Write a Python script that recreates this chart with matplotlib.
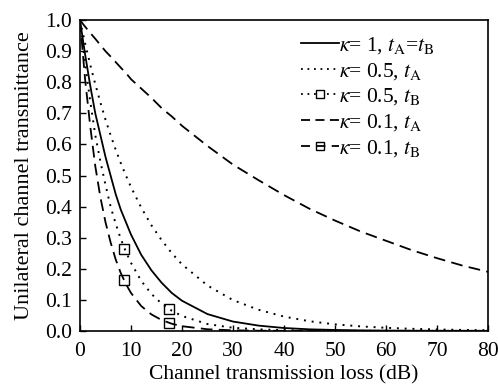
"""
Unilateral channel transmittance vs channel transmission loss.
"""
import matplotlib
matplotlib.use("Agg")
import matplotlib.pyplot as plt

# values
loss_db = [0, 1, 2, 3, 4, 5, 6, 7, 8, 9, 10, 12, 14, 16, 18, 20, 25, 30,
           35, 40, 45, 50, 55, 60, 65, 70, 75, 80]

k1 = [1.0, 0.89, 0.79, 0.70, 0.63, 0.56, 0.50, 0.44, 0.39, 0.35, 0.31, 0.245,
      0.195, 0.155, 0.122, 0.097, 0.054, 0.030, 0.017, 0.0093, 0.005, 0.003,
      0.0016, 0.0009, 0.0005, 0.0003, 0.0002, 0.0001]

k05_ta = [1.0, 0.926, 0.857, 0.794, 0.735, 0.68, 0.63, 0.583, 0.54, 0.50,
          0.463, 0.397, 0.34, 0.292, 0.25, 0.214, 0.146, 0.099, 0.068, 0.046,
          0.031, 0.021, 0.0145, 0.0099, 0.0067, 0.0046, 0.0031, 0.0021]

k05_tb = [1.0, 0.86, 0.74, 0.63, 0.545, 0.47, 0.40, 0.345, 0.296, 0.255,
          0.219, 0.161, 0.119, 0.088, 0.065, 0.048, 0.022, 0.010, 0.005,
          0.0023, 0.001, 0.0005, 0.0002, 0.0001, 0.0, 0.0, 0.0, 0.0]

k01_ta = [1.0, 0.979, 0.959, 0.94, 0.92, 0.90, 0.883, 0.865, 0.847, 0.83,
          0.81, 0.78, 0.75, 0.717, 0.69, 0.66, 0.595, 0.535, 0.485, 0.437,
          0.393, 0.355, 0.32, 0.29, 0.26, 0.234, 0.21, 0.19]

k01_tb = [1.0, 0.81, 0.66, 0.53, 0.43, 0.35, 0.285, 0.23, 0.186, 0.151,
          0.122, 0.08, 0.053, 0.035, 0.023, 0.015, 0.0052, 0.0018, 0.0006,
          0.0002, 0.0, 0.0, 0.0, 0.0, 0.0, 0.0, 0.0, 0.0]

# square markers on the t_B curves
marker_db = [8.6, 17.5]
k05_tb_marks = [0.265, 0.07]
k01_tb_marks = [0.165, 0.026]

plt.rcParams['font.family'] = ['Liberation Serif', 'DejaVu Serif']
plt.rcParams['mathtext.fontset'] = 'stix'

fig = plt.figure(figsize=(4.98, 3.87), dpi=100)
ax = fig.add_axes([0.1606, 0.145, 0.8194, 0.803])

lw = 1.3
dot = (0, (1, 3.0))
dash = (0, (6.5, 3.5))
ax.plot(loss_db, k1, color='black', lw=lw, linestyle='-')
ax.plot(loss_db, k05_ta, color='black', lw=1.4, linestyle=dot)
ax.plot(loss_db, k05_tb, color='black', lw=1.4, linestyle=dot)
ax.plot(marker_db, k05_tb_marks, linestyle='none', marker='s', ms=6.5,
        mfc='none', mec='black', mew=1.0)
ax.plot(loss_db, k01_ta, color='black', lw=lw, linestyle=dash)
ax.plot(loss_db, k01_tb, color='black', lw=lw, linestyle=dash)
ax.plot(marker_db, k01_tb_marks, linestyle='none', marker='s', ms=6.5,
        mfc='none', mec='black', mew=1.0)

# legend proxies
h1, = ax.plot([], [], color='black', lw=lw, linestyle='-')
h2, = ax.plot([], [], color='black', lw=lw, linestyle=(0, (1, 2.6)))
h3, = ax.plot([], [], color='black', lw=lw, linestyle=(0, (1, 2.6)),
              marker='s', ms=5.5, mfc='white', mec='black', mew=1.0)
h4, = ax.plot([], [], color='black', lw=lw, linestyle=(0, (5, 3.0)))
h5, = ax.plot([], [], color='black', lw=lw, linestyle=(0, (5, 3.5)),
              marker='s', ms=5.5, mfc='none', mec='black', mew=1.0)
labels = [r'$\kappa$= 1, $t_{\mathrm{A}}$=$t_{\mathrm{B}}$',
          r'$\kappa$= 0.5, $t_{\mathrm{A}}$',
          r'$\kappa$= 0.5, $t_{\mathrm{B}}$',
          r'$\kappa$= 0.1, $t_{\mathrm{A}}$',
          r'$\kappa$= 0.1, $t_{\mathrm{B}}$']
ax.legend([h1, h2, h3, h4, h5], labels, loc='upper right',
          bbox_to_anchor=(0.905, 1.0), frameon=False, fontsize=15.5,
          handlelength=1.75, handletextpad=0.0, labelspacing=0.22,
          borderaxespad=0.3, numpoints=1)

ax.set_xlim(0, 80)
ax.set_ylim(0, 1.0)
ax.set_xticks(range(0, 81, 10))
ax.set_yticks([i / 10 for i in range(11)])
ax.set_yticklabels([f"{i / 10:.1f}" for i in range(11)])
ax.tick_params(direction='in', length=4, width=1, labelsize=15.5,
               top=False, right=False)
ax.tick_params(axis='x', pad=8)
ax.tick_params(axis='y', pad=6)
for s in ax.spines.values():
    s.set_linewidth(1.2)

ax.set_xlabel('Channel transmission loss (dB)', fontsize=15.5, labelpad=3)
ax.set_ylabel('Unilateral channel transmittance', fontsize=16, labelpad=8)

fig.savefig('out.png', dpi=100)
